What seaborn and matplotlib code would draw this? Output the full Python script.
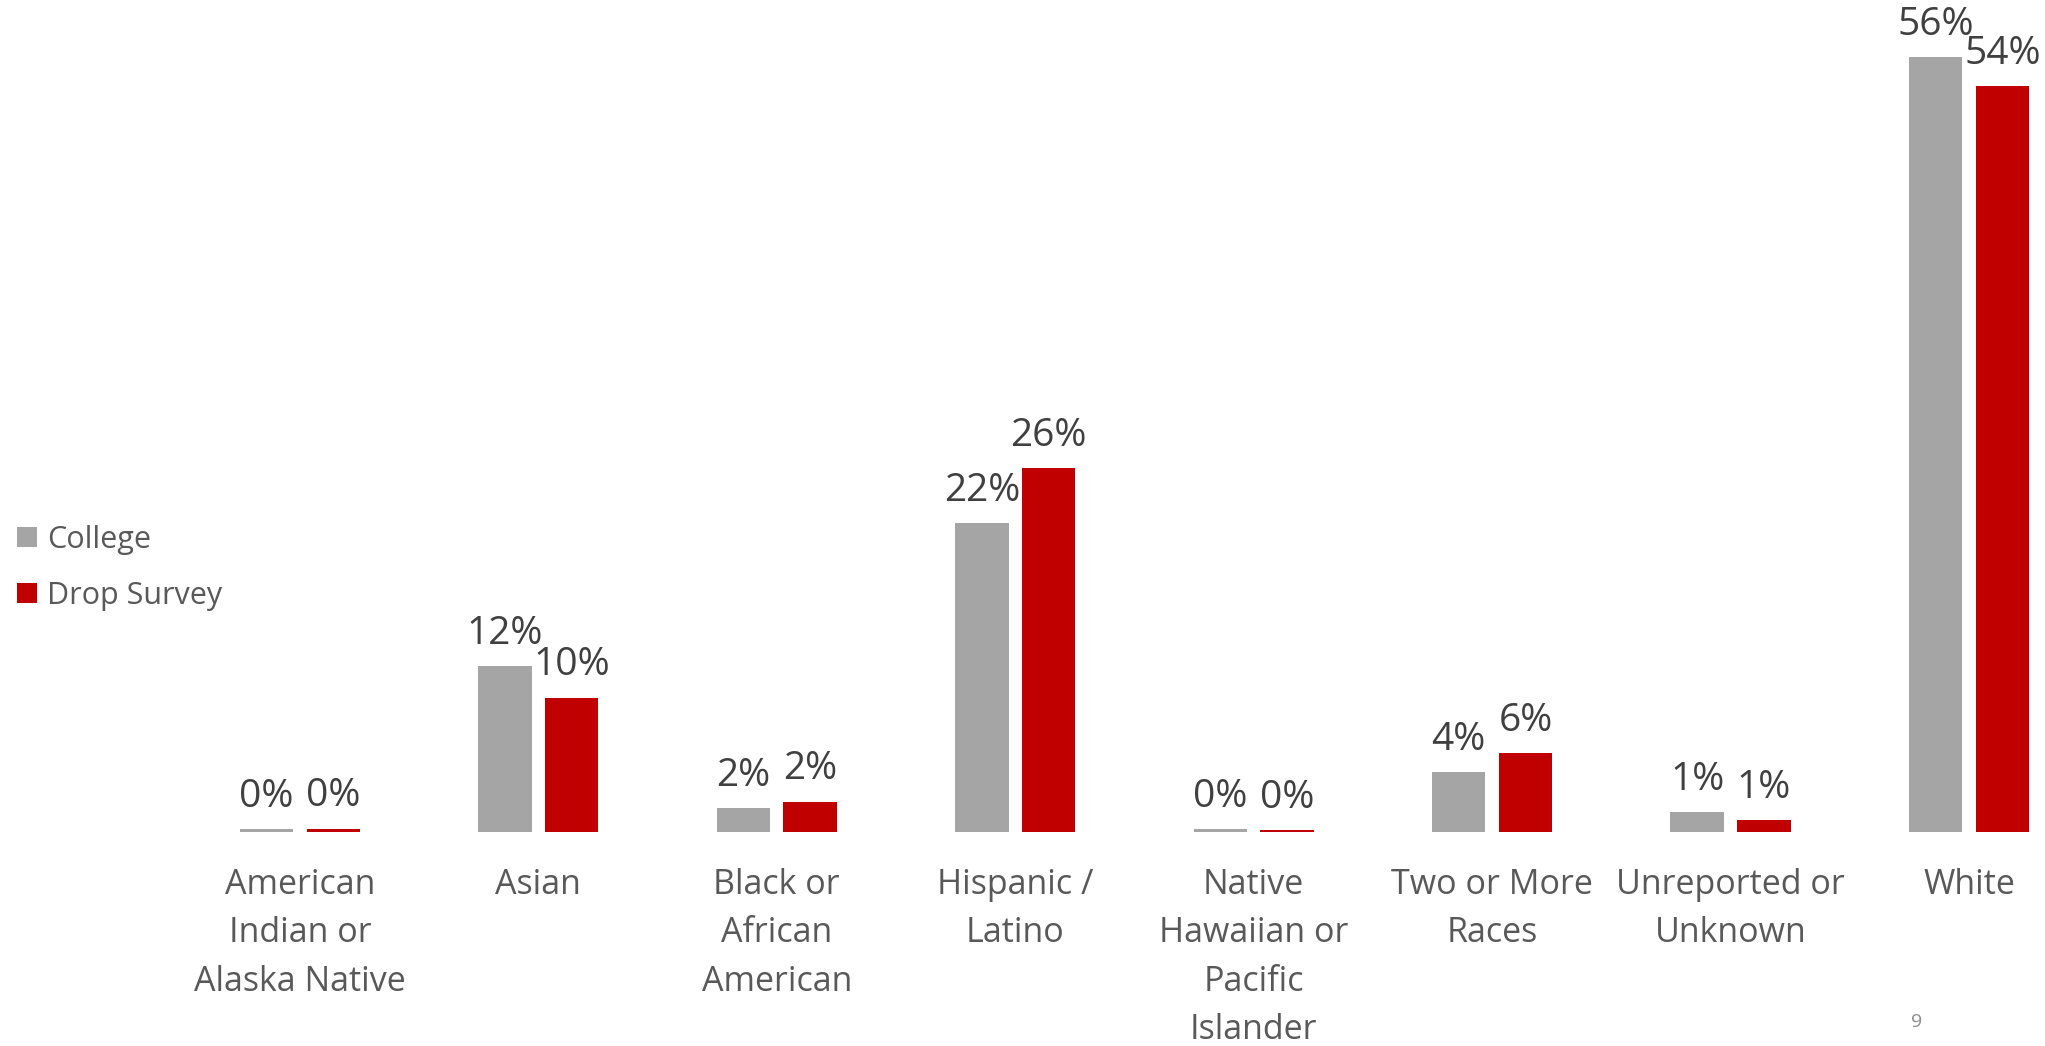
import numpy as np
import pandas as pd
import matplotlib
matplotlib.use('Agg')
import matplotlib.pyplot as plt
import seaborn as sns

categories = ['American\nIndian or\nAlaska Native', 'Asian', 'Black or\nAfrican\nAmerican',
              'Hispanic /\nLatino', 'Native\nHawaiian or\nPacific\nIslander',
              'Two or More\nRaces', 'Unreported or\nUnknown', 'White']
college = [0.2, 12.0, 1.7, 22.3, 0.2, 4.3, 1.45, 56.0]
drop_survey = [0.25, 9.7, 2.2, 26.3, 0.15, 5.7, 0.85, 53.9]
series_names = ['College', 'Drop Survey']
colors = ['#A5A5A5', '#C00000']

df = pd.DataFrame({
    'category': categories * 2,
    'pct': college + drop_survey,
    'series': [series_names[0]] * len(categories) + [series_names[1]] * len(categories),
})

sns.set_style('white')
plt.rcParams['font.family'] = ['Open Sans', 'DejaVu Sans']

fig = plt.figure(figsize=(20.45, 10.46), dpi=100)
ax = fig.add_axes([0, 0.2046, 1, 0.7954])

sns.barplot(data=df, x='category', y='pct', hue='series', palette=colors,
            saturation=1, width=0.56, gap=0.2, linewidth=0, ax=ax)

# value labels, rounded like the source
for container in ax.containers:
    for bar in container:
        h = bar.get_height()
        ax.annotate(f'{round(h):.0f}%', (bar.get_x() + bar.get_width() / 2, h),
                    xytext=(0, 16), textcoords='offset points',
                    ha='center', va='baseline', fontsize=28, color='#404040')

ax.set_xlim(-1.258, 7.319)
ax.set_ylim(0, 60.1)
ax.set_xlabel('')
ax.set_ylabel('')
ax.set_yticks([])
ax.tick_params(axis='x', length=0, pad=26, labelsize=24.5, labelcolor='#595959')
for lbl in ax.get_xticklabels():
    lbl.set_linespacing(1.55)
sns.despine(ax=ax, left=True, bottom=True)

handles, labels = ax.get_legend_handles_labels()
ax.legend(handles, labels, loc='center left', bbox_to_anchor=(0.0, 0.457),
          bbox_transform=fig.transFigure, frameon=False, fontsize=22,
          labelcolor='#595959', handlelength=0.65, handleheight=0.65,
          handletextpad=0.35, labelspacing=0.85, borderaxespad=0.15)

fig.text(1917 / 2045, 1 - 1022 / 1046, '9', fontsize=14, color='#8C8C8C',
         ha='center', va='center')

fig.savefig('out.png', dpi=100)
